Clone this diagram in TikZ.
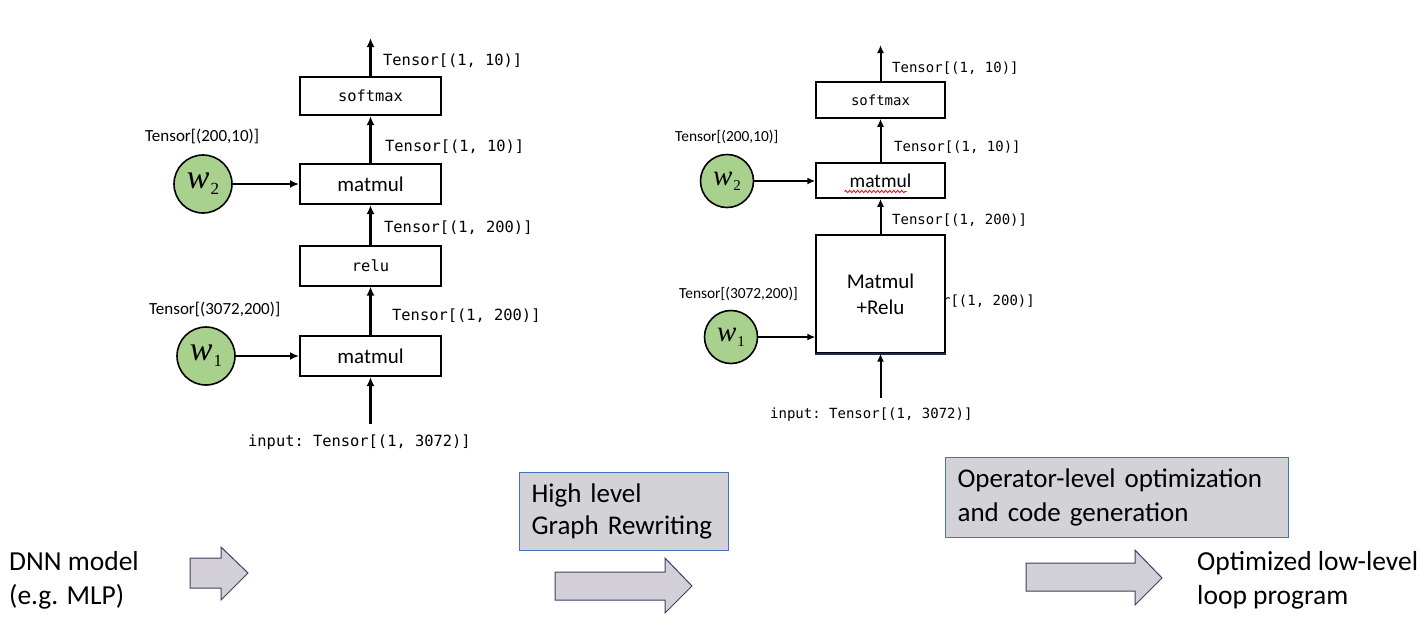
\documentclass[tikz,border=0pt]{standalone}
\usepackage{fontspec}
\setmainfont{Carlito}
\setmonofont{DejaVu Sans Mono}
\newfontfamily\wfont{Liberation Serif}
\usetikzlibrary{arrows.meta,decorations.pathmorphing,calc}
\definecolor{wgreen}{RGB}{169,209,142}
\definecolor{boxgray}{RGB}{211,210,215}
\definecolor{boxblue}{RGB}{68,114,196}
\definecolor{arrowedge}{RGB}{60,66,100}
\definecolor{arrowfill}{RGB}{210,208,214}
\definecolor{navyline}{RGB}{30,40,90}
\newcommand{\wsym}[4]{{\wfont\fontsize{#1}{#1}\selectfont\itshape w}\kern1pt\raisebox{-#3pt}{\wfont\fontsize{#2}{#2}\selectfont #4}}
\tikzset{
  opbox/.style={draw, line width=2pt, fill=white, inner sep=0pt, minimum width=141pt},
  opboxr/.style={draw, line width=1.5pt, fill=white, inner sep=0pt, minimum width=129pt},
  wnode/.style={circle, draw, line width=1.6pt, fill=wgreen, inner sep=0pt},
  flow/.style={-{Latex[length=9pt,width=8pt]}, line width=2.2pt},
  flowr/.style={-{Latex[length=8pt,width=7pt]}, line width=2pt},
  monoL/.style={font=\fontsize{15.4}{18}\ttfamily, inner sep=0pt, anchor=west},
  monoR/.style={font=\fontsize{14}{17}\ttfamily, inner sep=0pt, anchor=west},
  sansL/.style={font=\fontsize{17}{20}\selectfont, inner sep=0pt, anchor=west},
  sansR/.style={font=\fontsize{15.4}{18}\selectfont, inner sep=0pt, anchor=west},
  bigtext/.style={font=\fontsize{27.5}{34}\selectfont, inner sep=0pt, anchor=north west, align=left},
  stagebox/.style={draw=boxblue, line width=1.2pt, fill=boxgray, anchor=north west, align=left, inner ysep=0pt},
  bigarrow/.style={draw=arrowedge, fill=arrowfill, line width=1pt, line join=miter},
}
\begin{document}
\begin{tikzpicture}[x=1pt,y=-1pt]
\useasboundingbox[fill=white] (0,0) rectangle (1426,630);

% ---------------- left graph ----------------
\node[opbox, minimum height=38pt, font=\fontsize{15.4}{18}\ttfamily] (smL) at (370.5,96) {softmax};
\node[opbox, minimum height=40pt, font=\fontsize{21}{24}\selectfont] (mm2L) at (370.5,184) {matmul};
\node[opbox, minimum height=40pt, font=\fontsize{15.4}{18}\ttfamily] (reluL) at (370.5,265.5) {relu};
\node[opbox, minimum height=40pt, font=\fontsize{21}{24}\selectfont] (mm1L) at (370.5,356) {matmul};
\node[wnode, minimum size=58pt] (w2L) at (203,184) {\wsym{34}{17}{6}{2}};
\node[wnode, minimum size=58pt] (w1L) at (206,356) {\wsym{34}{17}{6}{1}};
\coordinate (outL) at (370.5,38);
\coordinate (inL) at (370.5,424);

\draw[flow] (smL.north) -- (outL);
\draw[flow] (mm2L.north) -- (smL.south);
\draw[flow] (reluL.north) -- (mm2L.south);
\draw[flow] (mm1L.north) -- (reluL.south);
\draw[flow] (inL) -- (mm1L.south);
\draw[flow] (w2L.east) -- (w2L.east -| mm2L.west);
\draw[flow] (w1L.east) -- (w1L.east -| mm1L.west);

\node[monoL] (t1L) at (383,61) {Tensor[(1, 10)]};
\node[monoL] (t2L) at (385,147) {Tensor[(1, 10)]};
\node[monoL] (t3L) at (384,228) {Tensor[(1, 200)]};
\node[monoL] (t4L) at (392,316) {Tensor[(1, 200)]};
\node[monoL] (inpL) at (248,442) {input: Tensor[(1, 3072)]};
\node[sansL] (tw2L) at (145,136) {Tensor[(200,10)]};
\node[sansL] (tw1L) at (149,309) {Tensor[(3072,200)]};

% ---------------- right graph ----------------
\node[monoR, anchor=east] (hidR) at (1035,301) {Tensor[(1, 200)]};
\node[opboxr, minimum height=36pt, font=\fontsize{14}{17}\ttfamily] (smR) at (880.5,100) {softmax};
\node[opboxr, minimum height=35pt, font=\fontsize{19.5}{22}\selectfont] (mm2R) at (880.5,180.5) {matmul};
\node[draw, line width=1.2pt, fill=white, inner sep=0pt, minimum width=129pt, minimum height=118pt,
      align=center, font=\fontsize{21}{26}\selectfont] (bigR) at (880.5,294) {Matmul\\+Relu};
\draw[navyline, line width=2pt] (bigR.south west) -- (bigR.south east);
\draw[red, line width=0.8pt, decorate, decoration={snake, amplitude=1.2pt, segment length=4pt}]
  ($(mm2R.center)+(-36,11)$) -- ($(mm2R.center)+(26,11)$);
\node[wnode, minimum size=53pt] (w2R) at (727,181) {\wsym{29}{15}{5}{2}};
\node[wnode, minimum size=53pt] (w1R) at (731,337) {\wsym{29}{15}{5}{1}};
\coordinate (outR) at (880.5,45);
\coordinate (inR) at (880.5,398);

\draw[flowr] (smR.north) -- (outR);
\draw[flowr] (mm2R.north) -- (smR.south);
\draw[flowr] (bigR.north) -- (mm2R.south);
\draw[flowr] (inR) -- (bigR.south);
\draw[flowr] (w2R.east) -- (w2R.east -| mm2R.west);
\draw[flowr] (w1R.east) -- (w1R.east -| bigR.west);

\node[monoR] (t1R) at (892,68) {Tensor[(1, 10)]};
\node[monoR] (t2R) at (894,147) {Tensor[(1, 10)]};
\node[monoR] (t3R) at (892,220) {Tensor[(1, 200)]};
\node[monoR] (inpR) at (770,415) {input: Tensor[(1, 3072)]};
\node[sansR] (tw2R) at (675,137) {Tensor[(200,10)]};
\node[sansR] (tw1R) at (679,294) {Tensor[(3072,200)]};

% ---------------- bottom pipeline ----------------
\node[bigtext] (dnn) at (9,551) {DNN model\\(e.g. MLP)};
\node[bigtext] (opt) at (1197,551) {Optimized low-level\\loop program};
\node[stagebox, font=\fontsize{27}{32}\selectfont, inner xsep=12pt, text width=185pt, minimum height=78pt] (hl) at (519,472) {High level\\Graph Rewriting};
\node[stagebox, font=\fontsize{27}{34}\selectfont, inner xsep=12pt, text width=319pt, minimum height=80pt] (oplvl) at (945,457) {Operator-level optimization\\and code generation};

\draw[bigarrow] (190,558) -- (221,558) -- (221,547) -- (248,573) -- (221,600) -- (221,588) -- (190,588) -- cycle;
\draw[bigarrow] (555,572) -- (665,572) -- (665,558) -- (692,586) -- (665,613) -- (665,600) -- (555,600) -- cycle;
\draw[bigarrow] (1026,563) -- (1135,563) -- (1135,550) -- (1162,578) -- (1135,605) -- (1135,591) -- (1026,591) -- cycle;
\end{tikzpicture}
\end{document}
